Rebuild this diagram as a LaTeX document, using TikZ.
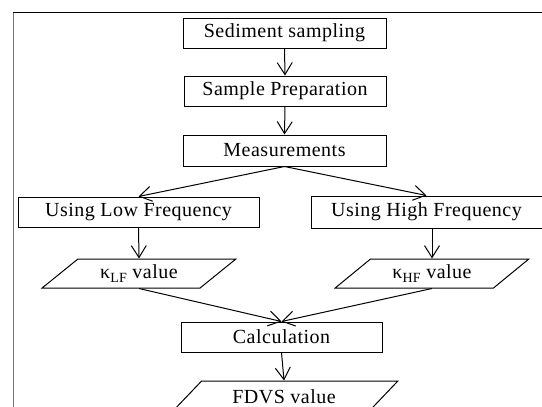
\documentclass[tikz,border=0pt]{standalone}
\usepackage{fontspec}
\setmainfont{Liberation Serif}[LetterSpace=2.5]
\usetikzlibrary{arrows.meta,shapes.geometric}
\begin{document}
\begin{tikzpicture}[x=1pt,y=-1pt,
  font=\fontsize{20}{24}\selectfont,
  every path/.style={line width=1pt},
  procbox/.style={draw, rectangle, inner sep=0pt, line width=1pt},
  iobox/.style={draw, trapezium, trapezium stretches=true, inner sep=0pt, line width=1pt},
  flow/.style={-{Straight Barb[length=12pt,width=15pt,line width=1pt]}, line width=1pt}
]
\useasboundingbox (0,0) rectangle (542,407);
\draw[black!55] (13,407) -- (13,12);
\draw (13,12) -- (542,12);

\node[procbox, minimum width=203pt, minimum height=30pt] (sed) at (284.5,33) {Sediment sampling};
\node[procbox, minimum width=202pt, minimum height=30pt] (prep) at (285,91) {Sample Preparation};
\node[procbox, minimum width=203pt, minimum height=31pt] (meas) at (284.5,150.5) {Measurements};
\node[procbox, minimum width=241pt, minimum height=30pt] (low) at (138.5,212) {Using Low Frequency};
\node[procbox, minimum width=231pt, minimum height=32pt] (high) at (426.5,212) {Using High Frequency};

\node[iobox, trapezium left angle=37.4, trapezium right angle=142.6,
  minimum width=194pt, minimum height=29pt] (klf) at (139,273.5)
  {κ\raisebox{-3.5pt}{\fontsize{14}{14}\selectfont LF} value};
\node[iobox, trapezium left angle=37.4, trapezium right angle=142.6,
  minimum width=194pt, minimum height=29pt] (khf) at (432,273.5)
  {κ\raisebox{-3.5pt}{\fontsize{14}{14}\selectfont HF} value};

\node[procbox, minimum width=201pt, minimum height=30pt] (calc) at (281.5,337) {Calculation};
\node[iobox, trapezium left angle=38.8, trapezium right angle=141.2,
  minimum width=228pt, minimum height=33pt] (fdvs) at (284,397.5) {\raisebox{2pt}{FDVS value}};

\draw[flow] (sed.south) -- (prep.north);
\draw[flow] (prep.south) -- (meas.north);
\draw[flow] (meas.south) -- (low.north);
\draw[flow] (meas.south) -- (high.north);
\draw[flow] (low.south) -- (klf.north);
\draw[flow] (high.south -| khf.north) -- (khf.north);
\draw[flow] (klf.south) -- (calc.north);
\draw[flow] (khf.south) -- (calc.north);
\draw[flow] (calc.south) -- (fdvs.north);
\end{tikzpicture}
\end{document}
